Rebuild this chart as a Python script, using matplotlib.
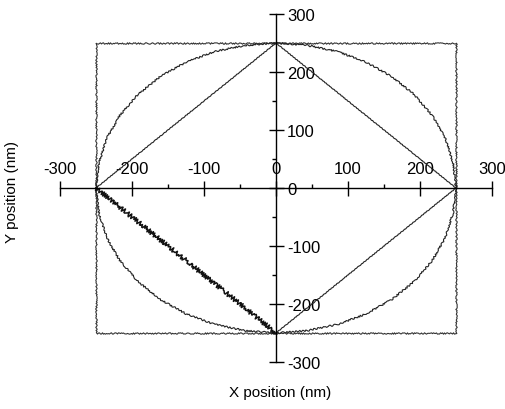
import numpy as np
import matplotlib
matplotlib.use("Agg")
import matplotlib.pyplot as plt
from matplotlib.ticker import MultipleLocator

plt.rcParams['font.family'] = ['Liberation Sans', 'DejaVu Sans']
plt.rcParams['axes.unicode_minus'] = False

# Scan outlines (nm)
square_x = [-250, 250, 250, -250, -250]
square_y = [250, 250, -250, -250, 250]

diamond_upper_x = [-250, 0, 250, 0]
diamond_upper_y = [0, 250, 0, -250]
diamond_lower_x = [0, -250]
diamond_lower_y = [-250, 0]

circle_x = [250, 246, 235, 217, 192, 161, 125, 86, 43, 0,
            -43, -86, -125, -161, -192, -217, -235, -246, -250,
            -246, -235, -217, -192, -161, -125, -86, -43, 0,
            43, 86, 125, 161, 192, 217, 235, 246, 250]
circle_y = [0, 43, 86, 125, 161, 192, 217, 235, 246, 250,
            246, 235, 217, 192, 161, 125, 86, 43, 0,
            -43, -86, -125, -161, -192, -217, -235, -246, -250,
            -246, -235, -217, -192, -161, -125, -86, -43, 0]

ticks = [-300, -200, -100, 0, 100, 200, 300]

fig = plt.figure(figsize=(5.05, 4.10), dpi=100)
ax = fig.add_axes([60 / 505, 47 / 410, 432 / 505, 348 / 410])

sq, = ax.plot(square_x, square_y, color='#333333', lw=0.8)
sq.set_sketch_params(scale=0.7, length=2, randomness=4)
ci, = ax.plot(circle_x, circle_y, color='#222222', lw=0.8)
ci.set_sketch_params(scale=0.8, length=4, randomness=3)
d1, = ax.plot(diamond_upper_x, diamond_upper_y, color='#222222', lw=0.8)
d1.set_sketch_params(scale=0.3, length=4, randomness=2)
d2, = ax.plot(diamond_lower_x, diamond_lower_y, color='#111111', lw=1.1)
d2.set_sketch_params(scale=2.2, length=2.5, randomness=0.5)

ax.set_xlim(-300, 300)
ax.set_ylim(-300, 300)

for side in ['left', 'right', 'bottom', 'top']:
    ax.spines[side].set_position(('data', 0))
ax.spines['right'].set_color('none')
ax.spines['top'].set_color('none')
ax.spines['left'].set_linewidth(1.0)
ax.spines['bottom'].set_linewidth(1.0)

ax.set_xticks(ticks)
ax.set_yticks(ticks)
ax.xaxis.set_minor_locator(MultipleLocator(50))
ax.yaxis.set_minor_locator(MultipleLocator(50))

ax.tick_params(axis='x', which='major', bottom=True, top=False,
               labelbottom=False, labeltop=True, direction='inout',
               length=10.8, width=1.0, pad=3, labelsize=12)
ax.tick_params(axis='x', which='minor', bottom=True, top=False,
               direction='in', length=3, width=1.0)
ax.tick_params(axis='y', which='major', left=True, right=False,
               labelleft=False, labelright=True, direction='inout',
               length=10.8, width=1.0, pad=2.6, labelsize=12)
ax.tick_params(axis='y', which='minor', left=True, right=False,
               direction='out', length=3, width=1.0)

fig.text(280 / 505, 1 - 393 / 410, 'X position (nm)', ha='center', va='center',
         fontsize=11)
fig.text(12 / 505, 1 - 192 / 410, 'Y position (nm)', ha='center', va='center',
         rotation=90, fontsize=11)

fig.savefig('out.png', dpi=100)
